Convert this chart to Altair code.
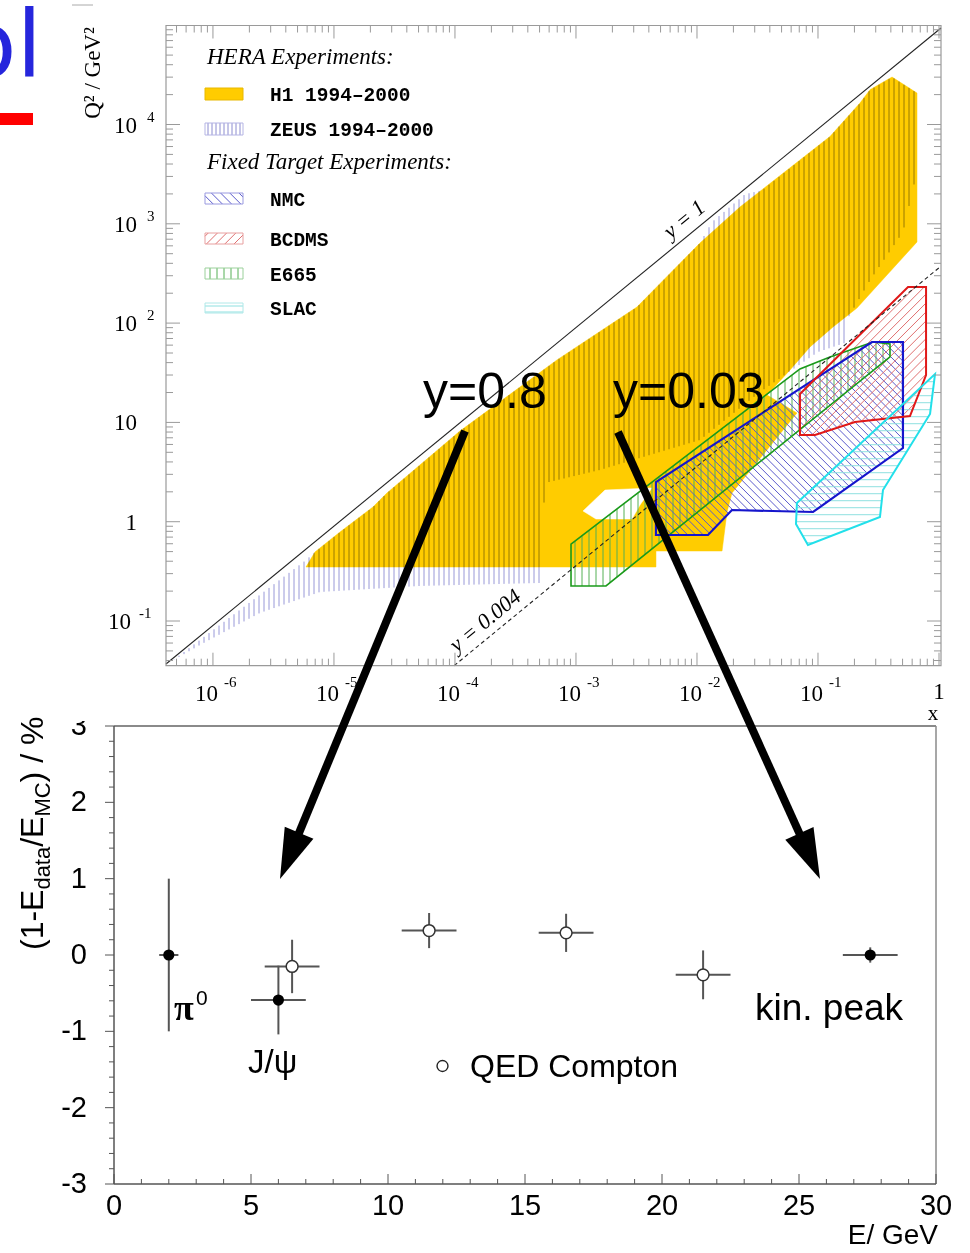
import numpy as np
import pandas as pd
import altair as alt

W, H = 970, 1253
SERIF = "Liberation Serif"
SANS = "Liberation Sans"
MONO = "Liberation Mono"

# ---------------------------------------------------------------
# upper panel: kinematic plane x - Q^2
# ---------------------------------------------------------------
S_CM = 4 * 27.5 * 820.0            # 4 E_e E_p in GeV^2
Y_KIN = [1.0, 0.004]               # lines of constant inelasticity y

# region boundaries, vertices as log10(x), log10(Q^2 / GeV^2)
h1_logx = [-5.231, -5.157, -4.950, -4.678, -4.562, -3.959, -3.157, -2.496,
           -1.975, -1.645, -0.901, -0.653, -0.570, -0.388, -0.182, -0.182,
           -0.678, -0.876, -1.066, -1.231, -1.421, -1.174, -1.711, -1.752,
           -1.793, -2.339, -2.339]
h1_logq2 = [-0.456, -0.305, -0.104, 0.148, 0.289, 0.913, 1.629, 2.162,
            2.807, 3.169, 3.879, 4.216, 4.350, 4.478, 4.317, 2.817,
            2.152, 1.961, 1.760, 1.528, 1.276, 1.095, 0.289, 0.098,
            -0.295, -0.295, -0.456]
h1_gap_logx = [-2.942, -2.760, -2.372, -2.471, -2.537, -2.835]
h1_gap_logq2 = [0.108, 0.319, 0.340, 0.168, 0.027, 0.027]
zeus_logx = [-6.339, -5.231, -5.157, -4.950, -4.678, -4.562, -3.959, -3.157,
             -2.496, -1.975, -1.876, -1.603, -1.463, -0.901, -0.653, -0.570,
             -0.388, -0.198, -0.198, -0.298, -0.570, -0.752, -0.777, -1.000,
             -1.479, -1.975, -2.802, -3.256, -3.298, -4.289, -5.116, -5.612,
             -6.107]
zeus_logq2 = [-1.403, -0.386, -0.305, -0.104, 0.148, 0.289, 0.913, 1.629,
              2.162, 2.807, 3.018, 3.298, 3.338, 3.879, 4.216, 4.350,
              4.478, 4.330, 3.441, 2.917, 2.432, 2.052, 1.800, 1.709,
              1.306, 0.823, 0.521, 0.390, -0.617, -0.647, -0.708, -0.919,
              -1.241]
nmc_logx = [-2.339, -2.339, -1.909, -1.711, -1.041, -0.298, -0.298, -0.554]
nmc_logq2 = [0.400, -0.134, -0.134, 0.118, 0.098, 0.742, 1.810, 1.810]
bcdms_logx = [-1.149, -1.149, -1.025, -0.694, -0.240, -0.107, -0.107, -0.256]
bcdms_logq2 = [1.286, 0.873, 0.873, 1.004, 1.064, 1.477, 2.364, 2.364]
e665_logx = [-3.041, -3.041, -2.752, -0.405, -0.405, -0.545, -0.901, -1.149]
e665_logq2 = [-0.225, -0.647, -0.647, 1.659, 1.790, 1.810, 1.659, 1.538]
slac_logx = [-0.033, -0.074, -0.463, -0.488, -1.083, -1.182, -1.174]
slac_logq2 = [1.487, 1.085, 0.319, 0.047, -0.235, -0.023, 0.188]

x_major_exp = [-6, -5, -4, -3, -2, -1, 0]
q2_major_exp = [-1, 0, 1, 2, 3, 4]

legend_entries = ["H1 1994\u20132000", "ZEUS 1994\u20132000", "NMC", "BCDMS", "E665", "SLAC"]

# ---------------------------------------------------------------
# lower panel: electromagnetic energy scale checks
# ---------------------------------------------------------------
cal_E = [2.0, 6.0, 27.6]          # pi0, J/psi, kinematic peak
cal_val = [0.0, -0.59, 0.0]
cal_dE = [0.35, 1.0, 1.0]
cal_dval = [1.0, 0.45, 0.1]
qedc_E = [6.5, 11.5, 16.5, 21.5]  # QED Compton
qedc_val = [-0.15, 0.32, 0.29, -0.26]
qedc_dE = [1.0, 1.0, 1.0, 1.0]
qedc_dval = [0.35, 0.23, 0.25, 0.32]
E_ticks = [0, 5, 10, 15, 20, 25, 30]
val_ticks = [-3, -2, -1, 0, 1, 2, 3]

# ---------------------------------------------------------------
# page geometry and scales
# ---------------------------------------------------------------
TOP_LOGX = (-6.388, 0.0165)
TOP_LOGQ2 = (-1.450, 4.997)
TOP_PX = (166.0, 941.0)
TOP_PY = (665.7, 25.5)
KX = (TOP_PX[1] - TOP_PX[0]) / (TOP_LOGX[1] - TOP_LOGX[0])     # px per decade
KY = (TOP_PY[0] - TOP_PY[1]) / (TOP_LOGQ2[1] - TOP_LOGQ2[0])

SX_TOP = alt.Scale(type="log", domain=[10 ** TOP_LOGX[0], 10 ** TOP_LOGX[1]],
                   range=list(TOP_PX), nice=False)
SY_TOP = alt.Scale(type="log", domain=[10 ** TOP_LOGQ2[0], 10 ** TOP_LOGQ2[1]],
                   range=list(TOP_PY), nice=False)
BOT_PX = (114.0, 936.0)
BOT_PY = (1184.0, 726.0)
SX_BOT = alt.Scale(domain=[0, 30], range=list(BOT_PX), nice=False, zero=False)
SY_BOT = alt.Scale(domain=[-3, 3], range=list(BOT_PY), nice=False, zero=False)
SX_PIX = alt.Scale(domain=[0, W], range=[0, W], nice=False, zero=False)
SY_PIX = alt.Scale(domain=[0, H], range=[0, H], nice=False, zero=False)

ONE = pd.DataFrame({"k": [0]})
FRAME = "#9a9a9a"


def XT(f="x"):
    return alt.X(f"{f}:Q", scale=SX_TOP, axis=None)


def YT(f="q2"):
    return alt.Y(f"{f}:Q", scale=SY_TOP, axis=None)


def XB(f="e"):
    return alt.X(f"{f}:Q", scale=SX_BOT, axis=None)


def YB(f="v"):
    return alt.Y(f"{f}:Q", scale=SY_BOT, axis=None)


def hatch_segments(u, v, angle_deg, spacing):
    """Clip a family of parallel lines against a polygon (screen-like units)."""
    a = np.radians(angle_deg)
    d = np.array([np.cos(a), np.sin(a)])
    nrm = np.array([-np.sin(a), np.cos(a)])
    pts = np.column_stack([np.asarray(u, float), np.asarray(v, float)])
    t = pts @ nrm
    m = len(pts)
    segs = []
    for k in range(int(np.ceil(t.min() / spacing)), int(np.floor(t.max() / spacing)) + 1):
        c = k * spacing
        hits = []
        for i in range(m):
            j = (i + 1) % m
            ti, tj = t[i] - c, t[j] - c
            if (ti < 0) != (tj < 0):
                r = ti / (ti - tj)
                hits.append(pts[i] + r * (pts[j] - pts[i]))
        hits.sort(key=lambda p: float(p @ d))
        for p0, p1 in zip(hits[0::2], hits[1::2]):
            segs.append((p0[0], p0[1], p1[0], p1[1]))
    return segs


def region(lx, lq, **mark):
    df = pd.DataFrame({"x": np.power(10.0, lx), "q2": np.power(10.0, lq),
                       "i": np.arange(len(lx))})
    return alt.Chart(df).mark_line(interpolate="linear-closed", **mark).encode(
        x=XT(), y=YT(), order="i:Q")


def region_hatch(lx, lq, angle, spacing, **mark):
    segs = hatch_segments(np.asarray(lx) * KX, np.asarray(lq) * KY, angle, spacing)
    s = np.array(segs)
    df = pd.DataFrame({"x": 10 ** (s[:, 0] / KX), "q2": 10 ** (s[:, 1] / KY),
                       "x_end": 10 ** (s[:, 2] / KX), "q2_end": 10 ** (s[:, 3] / KY)})
    return alt.Chart(df).mark_rule(**mark).encode(
        x=XT(), y=YT(), x2="x_end:Q", y2="q2_end:Q")


def label(text, x, y, size, font=SANS, color="black", align="left",
          baseline="alphabetic", angle=0, style="normal", weight="normal", dx=0, dy=0):
    kw = dict(text=text, font=font, fontSize=size, color=color, align=align,
              baseline=baseline, fontStyle=style, fontWeight=weight)
    if angle:
        kw["angle"] = angle
    if dx:
        kw["dx"] = dx
    if dy:
        kw["dy"] = dy
    return alt.Chart(ONE).mark_text(**kw).encode(x=alt.value(x), y=alt.value(y))


def segment(x0, y0, x1, y1, color, width, **kw):
    return alt.Chart(ONE).mark_rule(color=color, strokeWidth=width, **kw).encode(
        x=alt.value(x0), y=alt.value(y0), x2=alt.value(x1), y2=alt.value(y1))


def box(x0, y0, x1, y1, **kw):
    return alt.Chart(ONE).mark_rect(**kw).encode(
        x=alt.value(x0), y=alt.value(y0), x2=alt.value(x1), y2=alt.value(y1))


def box_hatch(x0, y0, x1, y1, angle, spacing, color):
    segs = np.array(hatch_segments([x0, x1, x1, x0], [-y0, -y0, -y1, -y1], angle, spacing))
    df = pd.DataFrame({"px": segs[:, 0], "py": -segs[:, 1], "px2": segs[:, 2], "py2": -segs[:, 3]})
    return alt.Chart(df).mark_rule(color=color, strokeWidth=1).encode(
        x=alt.X("px:Q", scale=SX_PIX, axis=None), y=alt.Y("py:Q", scale=SY_PIX, axis=None),
        x2="px2:Q", y2="py2:Q")


def arrow(x0, y0, x1, y1, head=50.0, width=8):
    ux, uy = x1 - x0, y1 - y0
    n = np.hypot(ux, uy)
    ux, uy = ux / n, uy / n
    cx, cy = x1 - ux * head / 2, y1 - uy * head / 2
    ang = float(np.degrees(np.arctan2(-ux, uy)) % 360)
    shaft = segment(x0, y0, float(cx), float(cy), "black", width, strokeCap="butt")
    tip = alt.Chart(ONE).mark_point(shape="M0,1 L-0.62,-1 L0.62,-1 Z", filled=True,
                                    color="black", opacity=1, size=head * head,
                                    angle=ang).encode(x=alt.value(float(cx)), y=alt.value(float(cy)))
    return [shaft, tip]


layers = []

# ======================= lower panel =======================
cal = pd.DataFrame({"e": cal_E, "v": cal_val, "de": cal_dE, "dv": cal_dval})
qed = pd.DataFrame({"e": qedc_E, "v": qedc_val, "de": qedc_dE, "dv": qedc_dval})
for df in (cal, qed):
    df["e_lo"], df["e_hi"] = df.e - df.de, df.e + df.de
    df["v_lo"], df["v_hi"] = df.v - df.dv, df.v + df.dv

layers += [
    alt.Chart(ONE).mark_rule(color="#8a8a8a", strokeWidth=2).encode(
        x=alt.value(BOT_PX[0]), x2=alt.value(BOT_PX[1]), y=alt.value(BOT_PY[1])),
    alt.Chart(ONE).mark_rule(color="#8a8a8a", strokeWidth=1.5).encode(
        x=alt.value(BOT_PX[1]), y=alt.value(BOT_PY[0]), y2=alt.value(BOT_PY[1])),
    alt.Chart(ONE).mark_rule(color="#555555", strokeWidth=1.5).encode(
        x=alt.value(BOT_PX[0]), y=alt.value(BOT_PY[0]), y2=alt.value(BOT_PY[1])),
    alt.Chart(ONE).mark_rule(color="#555555", strokeWidth=1.5).encode(
        x=alt.value(BOT_PX[0]), x2=alt.value(BOT_PX[1]), y=alt.value(BOT_PY[0])),
]
e_minor = pd.DataFrame({"e": [e for e in range(0, 31) if e % 5]})
v_minor = pd.DataFrame({"v": [round(-3 + 0.2 * i, 1) for i in range(31) if i % 5]})
e_major = pd.DataFrame({"e": E_ticks, "t": [str(t) for t in E_ticks]})
v_major = pd.DataFrame({"v": val_ticks, "t": [str(t) for t in val_ticks]})
layers += [
    alt.Chart(e_minor).mark_rule(color="#555555").encode(
        x=XB(), y=alt.value(BOT_PY[0]), y2=alt.value(BOT_PY[0] - 5)),
    alt.Chart(e_major).mark_rule(color="#555555").encode(
        x=XB(), y=alt.value(BOT_PY[0]), y2=alt.value(BOT_PY[0] - 10)),
    alt.Chart(v_minor).mark_rule(color="#555555").encode(
        y=YB(), x=alt.value(BOT_PX[0]), x2=alt.value(BOT_PX[0] - 5)),
    alt.Chart(v_major).mark_rule(color="#555555").encode(
        y=YB(), x=alt.value(BOT_PX[0]), x2=alt.value(BOT_PX[0] - 9)),
    alt.Chart(e_major).mark_text(font=SANS, fontSize=29, baseline="middle").encode(
        x=XB(), y=alt.value(1206), text="t:N"),
    alt.Chart(v_major).mark_text(font=SANS, fontSize=29, baseline="middle", align="right").encode(
        y=YB(), x=alt.value(87), text="t:N"),
    label("E/ GeV", 938, 1244, 28, align="right"),
]
# y title (1-E_data/E_MC) / %
for txt, off, size, sub in [("(1-E", 0, 32, False), ("data", 60.4, 22, True),
                            ("/E", 103.2, 32, False), ("MC", 133.4, 22, True),
                            (") / %", 167.6, 32, False)]:
    layers.append(label(txt, 43, 950, size, angle=270, dx=off, dy=7 if sub else 0))

for df in (cal, qed):
    layers += [
        alt.Chart(df).mark_rule(color="#555555", strokeWidth=2).encode(x=XB("e_lo"), x2="e_hi:Q", y=YB()),
        alt.Chart(df).mark_rule(color="#555555", strokeWidth=2).encode(x=XB(), y=YB("v_lo"), y2="v_hi:Q"),
    ]
layers += [
    alt.Chart(cal).mark_point(shape="circle", filled=True, color="black", opacity=1, size=125).encode(
        x=XB(), y=YB()),
    alt.Chart(qed).mark_point(shape="circle", filled=True, fill="white", stroke="#333333",
                              strokeWidth=1.5, opacity=1, size=140).encode(x=XB(), y=YB()),
    label("\u03c0", 174, 1020, 36, font=SERIF, weight="bold"),
    label("0", 196, 1005, 21),
    label("J/\u03c8", 248, 1073, 33),
    label("kin. peak", 755, 1020, 37),
    alt.Chart(ONE).mark_point(shape="circle", filled=True, fill="white", stroke="#222222",
                              strokeWidth=1.4, opacity=1, size=120).encode(
        x=alt.value(442.5), y=alt.value(1066)),
    label("QED Compton", 470, 1077, 32),
]

# the upper figure sits over the top edge of the lower one
layers.append(box(58, 680, 960, 721, color="white"))

# ======================= upper panel =======================
layers += [
    region(h1_logx, h1_logq2, fill="#ffcc00", stroke="#ffcc00", strokeWidth=0.5),
    region(h1_gap_logx, h1_gap_logq2, fill="white", stroke="white", strokeWidth=0.5),
    region_hatch(zeus_logx, zeus_logq2, 90, 5.0, color="#9898d8", strokeWidth=1, blend="multiply"),
    region_hatch(e665_logx, e665_logq2, 90, 7.0, color="#55b055", strokeWidth=1),
    region_hatch(nmc_logx, nmc_logq2, 135, 5.5, color="#5a5acc", strokeWidth=1),
    region_hatch(bcdms_logx, bcdms_logq2, 45, 6.3, color="#e07070", strokeWidth=1),
    region_hatch(slac_logx, slac_logq2, 0, 7.0, color="#8ee0e0", strokeWidth=1),
    region(e665_logx, e665_logq2, stroke="#1a9a1a", strokeWidth=1.6),
    region(nmc_logx, nmc_logq2, stroke="#1515cc", strokeWidth=2.2),
    region(bcdms_logx, bcdms_logq2, stroke="#e01818", strokeWidth=2),
    region(slac_logx, slac_logq2, stroke="#22e0ea", strokeWidth=2),
]

# lines of constant y:  Q^2 = s x y
for y, dash, lab_lx, lab in [(Y_KIN[0], None, -2.026, "y = 1"), (Y_KIN[1], [4, 3], -3.671, "y = 0.004")]:
    x_lo = max(10 ** TOP_LOGX[0], 10 ** TOP_LOGQ2[0] / (y * S_CM))
    x_hi = min(10 ** TOP_LOGX[1], 10 ** TOP_LOGQ2[1] / (y * S_CM))
    df = pd.DataFrame({"x": [x_lo, x_hi], "q2": [y * S_CM * x_lo, y * S_CM * x_hi]})
    kw = dict(color="#222222", strokeWidth=1.1)
    if dash:
        kw["strokeDash"] = dash
    layers.append(alt.Chart(df).mark_line(**kw).encode(x=XT(), y=YT()))
    x_l = 10 ** lab_lx
    ldf = pd.DataFrame({"x": [x_l], "q2": [y * S_CM * x_l]})
    ang = 360 - float(np.degrees(np.arctan2(KY, KX)))
    layers.append(alt.Chart(ldf).mark_text(text=lab, font=SERIF, fontStyle="italic", fontSize=22,
                                           angle=ang, baseline="bottom", dy=-3).encode(x=XT(), y=YT()))

# frame and ticks
layers.append(box(TOP_PX[0], TOP_PY[1], TOP_PX[1], TOP_PY[0], fillOpacity=0, stroke=FRAME, strokeWidth=1.2))
x_major = pd.DataFrame({"x": [10.0 ** e for e in x_major_exp]})
x_minor = pd.DataFrame({"x": [m * 10.0 ** k for k in range(-7, 0) for m in range(2, 10)
                              if TOP_LOGX[0] < np.log10(m * 10.0 ** k) < TOP_LOGX[1]]})
q_major = pd.DataFrame({"q2": [10.0 ** e for e in q2_major_exp]})
q_minor = pd.DataFrame({"q2": [m * 10.0 ** k for k in range(-2, 5) for m in range(2, 10)
                               if TOP_LOGQ2[0] < np.log10(m * 10.0 ** k) < TOP_LOGQ2[1]]})
for df, ln in ((x_major, 13), (x_minor, 7)):
    layers += [
        alt.Chart(df).mark_rule(color=FRAME).encode(x=XT(), y=alt.value(TOP_PY[0]), y2=alt.value(TOP_PY[0] - ln)),
        alt.Chart(df).mark_rule(color=FRAME).encode(x=XT(), y=alt.value(TOP_PY[1]), y2=alt.value(TOP_PY[1] + ln)),
    ]
for df, ln in ((q_major, 14), (q_minor, 7)):
    layers += [
        alt.Chart(df).mark_rule(color=FRAME).encode(y=YT(), x=alt.value(TOP_PX[0]), x2=alt.value(TOP_PX[0] + ln)),
        alt.Chart(df).mark_rule(color=FRAME).encode(y=YT(), x=alt.value(TOP_PX[1]), x2=alt.value(TOP_PX[1] - ln)),
    ]

# tick labels 10^n
xl = pd.DataFrame({"x": [10.0 ** e for e in x_major_exp if e != 0],
                   "exp": [str(e) for e in x_major_exp if e != 0]})
layers += [
    alt.Chart(xl).mark_text(text="10", font=SERIF, fontSize=23, align="right", baseline="middle", dx=5).encode(
        x=XT(), y=alt.value(694)),
    alt.Chart(xl).mark_text(font=SERIF, fontSize=15, align="left", baseline="middle", dx=11).encode(
        x=XT(), y=alt.value(682), text="exp:N"),
    alt.Chart(pd.DataFrame({"x": [1.0]})).mark_text(text="1", font=SERIF, fontSize=23, baseline="middle").encode(
        x=XT(), y=alt.value(692)),
]
ql_pos = pd.DataFrame({"q2": [10.0 ** e for e in q2_major_exp if e >= 0],
                       "base": ["1" if e == 0 else "10" for e in q2_major_exp if e >= 0]})
qe_pos = pd.DataFrame({"q2": [10.0 ** e for e in q2_major_exp if e >= 2],
                       "exp": [str(e) for e in q2_major_exp if e >= 2]})
ql_neg = pd.DataFrame({"q2": [10.0 ** e for e in q2_major_exp if e < 0],
                       "exp": [str(e) for e in q2_major_exp if e < 0]})
layers += [
    alt.Chart(ql_pos).mark_text(font=SERIF, fontSize=23, align="right", baseline="middle", dy=1).encode(
        y=YT(), x=alt.value(137), text="base:N"),
    alt.Chart(qe_pos).mark_text(font=SERIF, fontSize=15, align="left", baseline="middle", dy=-8).encode(
        y=YT(), x=alt.value(147), text="exp:N"),
    alt.Chart(ql_neg).mark_text(text="10", font=SERIF, fontSize=23, align="right", baseline="middle", dy=1).encode(
        y=YT(), x=alt.value(131)),
    alt.Chart(ql_neg).mark_text(font=SERIF, fontSize=15, align="left", baseline="middle", dy=-8).encode(
        y=YT(), x=alt.value(139), text="exp:N"),
    label("x", 933, 720, 21, font=SERIF, align="center"),
    label("Q\u00b2 / GeV\u00b2", 93, 73, 23, font=SERIF, align="center", baseline="middle", angle=270),
]

# legend
LX0, LX1 = 205, 243
rows = [(88, 100), (123, 135), (193, 204), (233, 244), (268, 279), (303, 313)]
layers += [
    label("HERA Experiments:", 207, 64, 23, font=SERIF, style="italic"),
    label("Fixed Target Experiments:", 207, 169, 23, font=SERIF, style="italic"),
    box(LX0, rows[0][0], LX1, rows[0][1], color="#ffcc00", stroke="#e8b800", strokeWidth=1),
]
sw = [(rows[1], 90, 4.0, "#8c8cd0", "#b4b4e4"),
      (rows[2], 135, 6.5, "#5a5acc", "#9a9ae0"),
      (rows[3], 45, 6.5, "#e07070", "#e8a0a0"),
      (rows[4], 90, 7.0, "#55b055", "#9ad09a"),
      (rows[5], 0, 6.0, "#8ee0e0", "#b0e8e8")]
for (y0, y1), ang, sp, c_line, c_edge in sw:
    layers += [box_hatch(LX0, y0, LX1, y1, ang, sp, c_line),
               box(LX0, y0, LX1, y1, fillOpacity=0, stroke=c_edge, strokeWidth=1)]
for (y0, y1), name in zip(rows, legend_entries):
    layers.append(label(name, 270, (y0 + y1) / 2 + 1, 19.5, font=MONO, weight="bold", baseline="middle"))

# ======================= slide annotations =======================
layers += [
    label("ol", 42, 77, 92, font="DejaVu Sans", color="#2626dc", align="right"),
    box(0, 113, 33, 125, color="#ff0000"),
    segment(72, 5, 93, 5, "#aaaaaa", 1),
    label("y=0.8", 423, 408, 50),
    label("y=0.03", 613, 408, 50),
]
layers += arrow(465, 431, 280, 879)
layers += arrow(618, 432, 820, 879)

chart = (
    alt.layer(*layers)
    .properties(width=W, height=H, padding=0, autosize=alt.AutoSizeParams(type="none"))
    .resolve_scale(x="independent", y="independent")
    .configure_view(strokeOpacity=0)
)
chart.save("out.html", embed_options={"renderer": "svg", "actions": False})
